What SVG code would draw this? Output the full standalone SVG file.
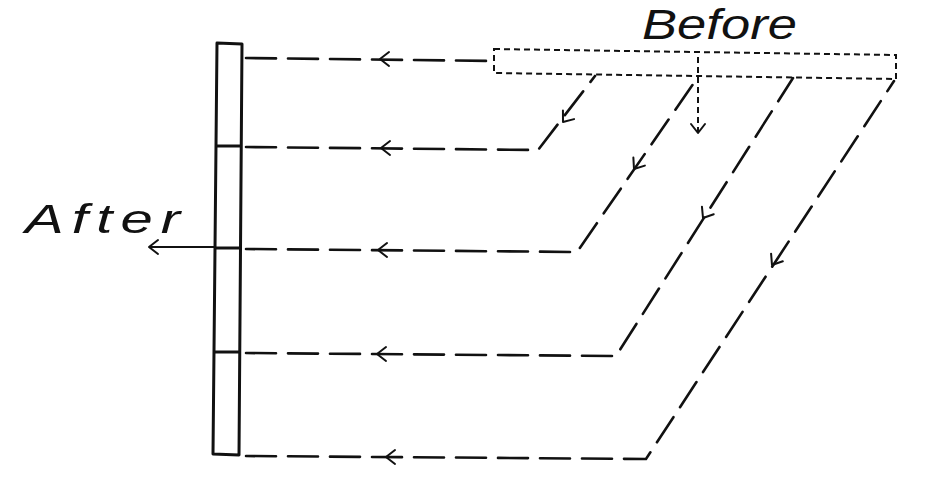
<svg xmlns="http://www.w3.org/2000/svg" width="926" height="482" viewBox="0 0 926 482">
<style>
.solid{fill:none;stroke:#111;stroke-width:3;stroke-linejoin:round}
.thin{fill:none;stroke:#111;stroke-width:2}
.dash{fill:none;stroke:#111;stroke-width:2.6;stroke-dasharray:30 12;stroke-linecap:round}
.dot{fill:none;stroke:#111;stroke-width:2;stroke-dasharray:6 4}
.chev{fill:none;stroke:#111;stroke-width:2;stroke-linecap:round;stroke-linejoin:round}
.lbl{font-family:"Liberation Sans",Arial,sans-serif;font-style:italic;fill:#111}
</style>
<defs>
<path id="chev" class="chev" d="M9,-7 L0,0 L9,7"/>
</defs>
<rect width="926" height="482" fill="#fff"/>
<g id="bar">
<polygon class="solid" points="217,43 242,44 239,455 213,454"/>
<line class="solid" x1="216" y1="146" x2="241" y2="146"/>
<line class="solid" x1="215" y1="248" x2="240" y2="248"/>
<line class="solid" x1="214" y1="352" x2="240" y2="352"/>
</g>
<g id="before-block">
<polygon class="dot" points="494,49 896,55 896,79 494,73"/>
</g>
<g id="label-before"><text class="lbl" transform="translate(642,39) scale(1.25,1)" x="0" y="0" font-size="42" textLength="124" lengthAdjust="spacing">Before</text></g>
<g id="label-after"><text class="lbl" transform="translate(25,233) scale(1.45,1)" x="0" y="0" font-size="40" textLength="107" lengthAdjust="spacing">After</text></g>
<g id="connectors">
<polyline class="dash" points="246,58 494,61"/>
<polyline class="dash" points="246,147 538,150 595,76"/>
<polyline class="dash" points="246,249 577,252 698,77"/>
<polyline class="dash" points="246,353 616,356 793,78"/>
<polyline class="dash" points="246,456 646,459 894,81"/>
<line class="dot" x1="698" y1="57" x2="698" y2="132"/>
<line class="thin" x1="149" y1="247" x2="215" y2="247"/>
<use href="#chev" transform="translate(380,59)"/>
<use href="#chev" transform="translate(381,148)"/>
<use href="#chev" transform="translate(378,250)"/>
<use href="#chev" transform="translate(377,354)"/>
<use href="#chev" transform="translate(386,457)"/>
<use href="#chev" transform="translate(563,122) rotate(-52.4)"/>
<use href="#chev" transform="translate(634,169) rotate(-55.3)"/>
<use href="#chev" transform="translate(703,218) rotate(-57.4)"/>
<use href="#chev" transform="translate(772,265) rotate(-56.7)"/>
<use href="#chev" transform="translate(698,133) rotate(-90)"/>
<use href="#chev" transform="translate(149,247)"/>
</g>
</svg>
